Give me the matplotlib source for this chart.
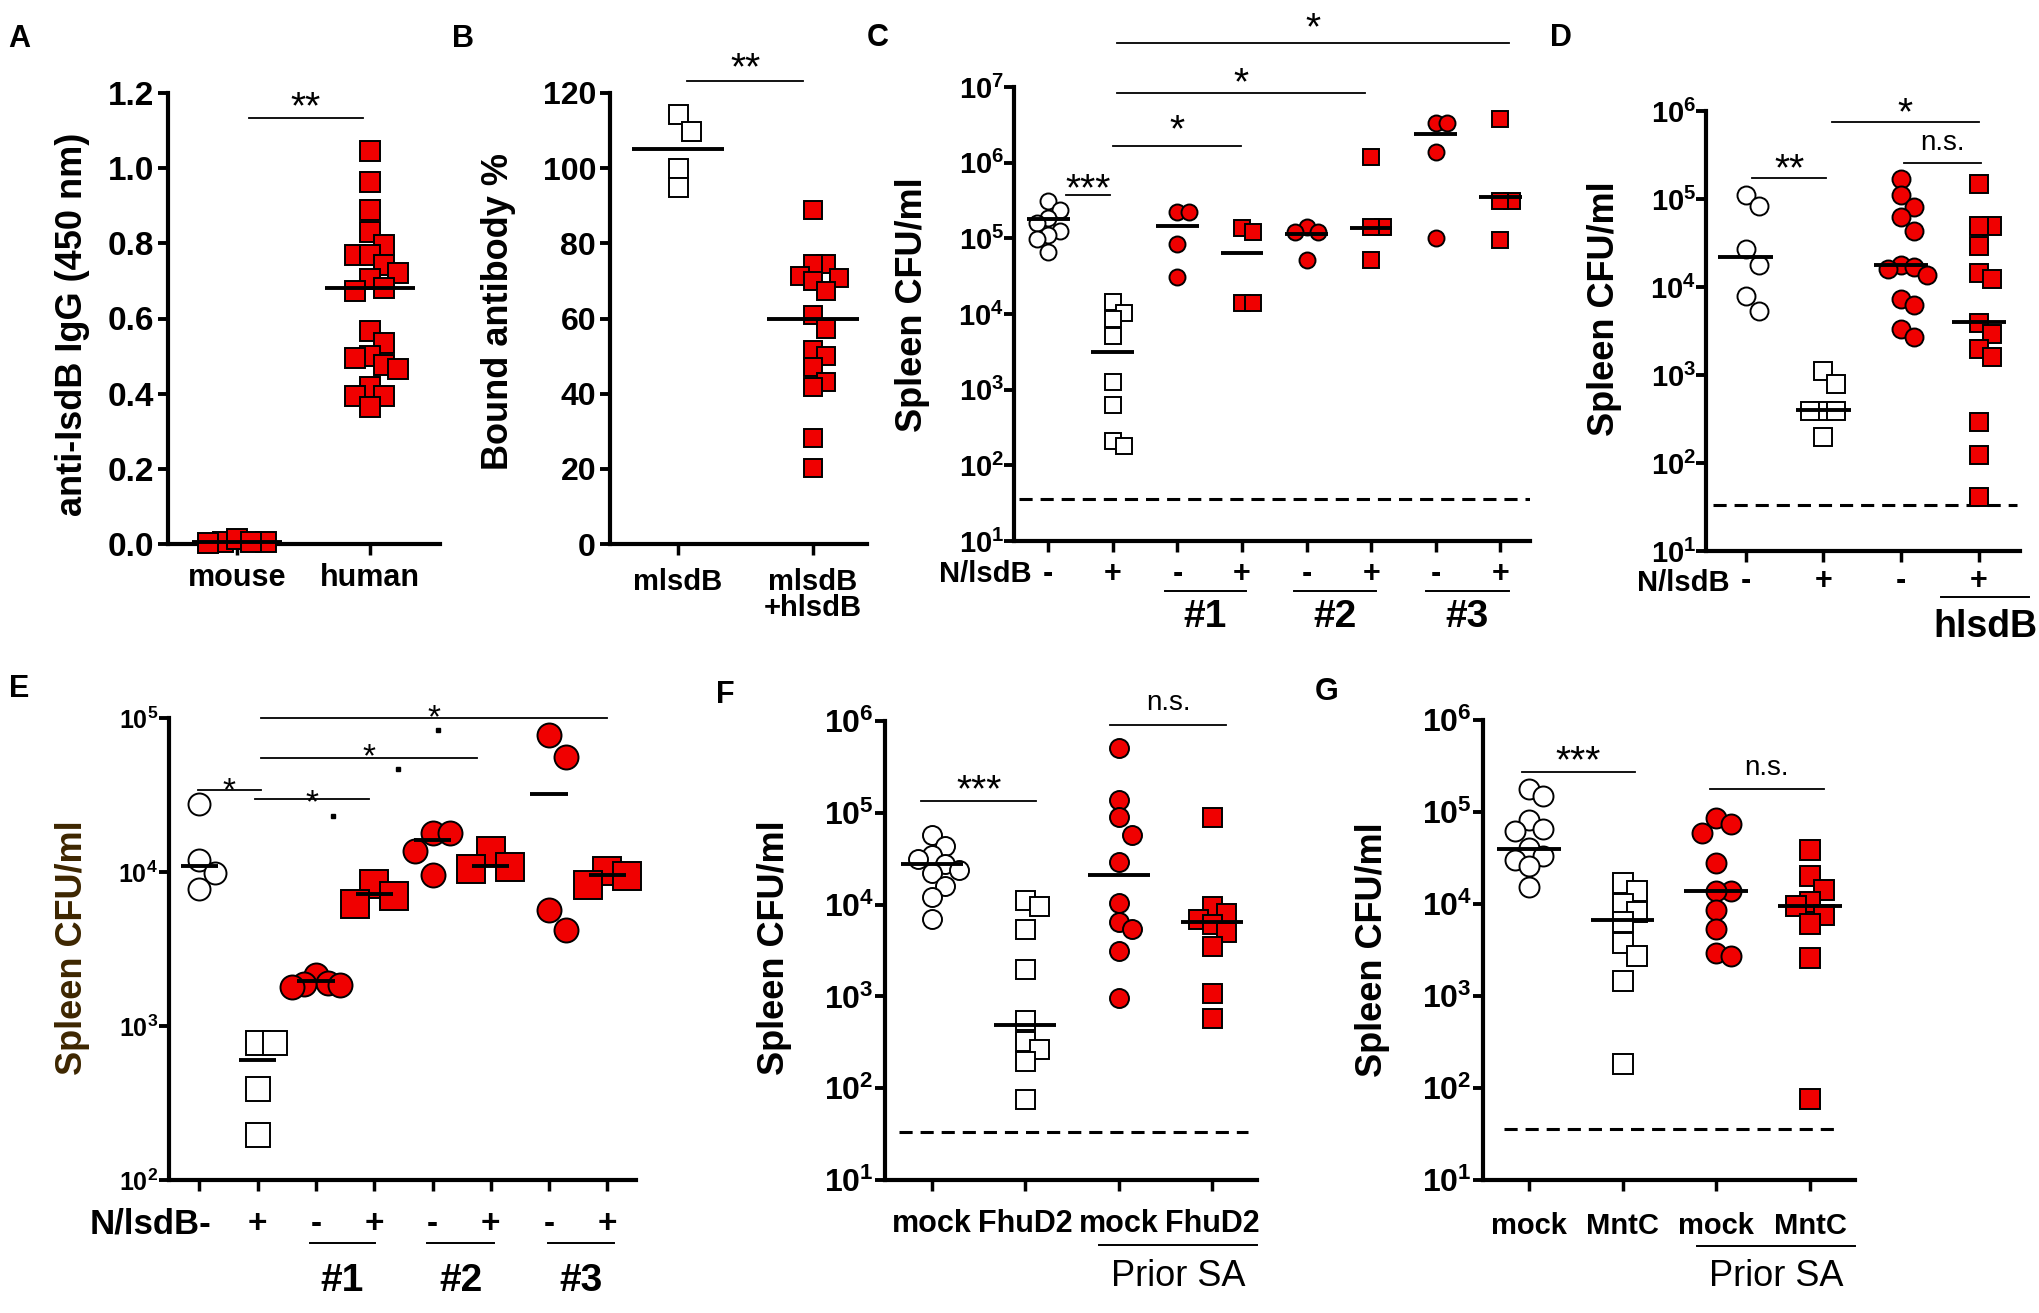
import matplotlib
matplotlib.use('Agg')
import matplotlib.pyplot as plt
import numpy as np
from matplotlib.ticker import NullLocator
from matplotlib.transforms import blended_transform_factory

plt.rcParams['font.family'] = ['Liberation Sans', 'DejaVu Sans']
plt.rcParams['font.weight'] = 'bold'
plt.rcParams['mathtext.fontset'] = 'custom'
plt.rcParams['mathtext.bf'] = 'Liberation Sans:bold'
plt.rcParams['mathtext.rm'] = 'Liberation Sans:bold'

W, H = 2040, 1313
RED = '#f00000'

# ---------------- data ----------------
# A: anti-IsdB IgG (OD 450)
a_mouse = [0.005, 0.004, 0.012, 0.006, 0.003]
a_human = [1.046, 0.962, 0.888, 0.829, 0.796, 0.769, 0.769, 0.742, 0.722, 0.704, 0.682,
           0.674, 0.568, 0.535, 0.501, 0.494, 0.476, 0.465, 0.418, 0.394, 0.394, 0.364]
a_lines = [0.006, 0.68]
a_labels = ['mouse', 'human']

# B: bound antibody %
b_m = [114.4, 110.0, 100.0, 95.0]
b_mh = [88.8, 74.4, 74.4, 71.3, 70.8, 70.0, 67.3, 61.0, 57.2, 51.5, 50.0, 47.1,
        43.0, 41.7, 28.2, 20.1]
b_lines = [105, 60]

# C: spleen CFU/ml
c_groups = [
    [3.1e5, 2.4e5, 1.85e5, 1.6e5, 1.25e5, 1.1e5, 9.7e4, 6.6e4],
    [1.45e4, 1.03e4, 8.5e3, 5.1e3, 1.25e3, 6.2e2, 2.1e2, 1.8e2],
    [2.2e5, 2.2e5, 8.5e4, 3.1e4],
    [1.35e5, 1.2e5, 1.4e4, 1.4e4],
    [1.4e5, 1.2e5, 1.2e5, 5.1e4],
    [1.2e6, 1.4e5, 1.4e5, 5.1e4],
    [3.3e6, 3.3e6, 1.4e6, 1.0e5],
    [3.8e6, 3.1e5, 3.1e5, 9.5e4],
]
c_lines = [1.8e5, 3.1e3, 1.45e5, 6.4e4, 1.15e5, 1.37e5, 2.4e6, 3.5e5]
c_lod = 36

# D
d_groups = [
    [1.1e5, 8.3e4, 2.7e4, 1.8e4, 7.9e3, 5.4e3],
    [1.1e3, 7.9e2, 3.9e2, 3.9e2, 3.9e2, 2.0e2],
    [1.7e5, 1.1e5, 8.1e4, 6.2e4, 4.3e4, 1.8e4, 1.7e4, 1.6e4, 1.36e4, 7.4e3, 6.3e3,
     3.3e3, 2.7e3],
    [1.47e5, 4.9e4, 4.9e4, 2.9e4, 1.44e4, 1.24e4, 3.9e3, 2.9e3, 2.0e3, 1.6e3, 2.9e2,
     1.24e2, 41],
]
d_lines = [2.2e4, 4.0e2, 1.8e4, 4.0e3]
d_lod = 33

# E
e_groups = [
    [2.75e4, 1.19e4, 9.9e3, 7.7e3],
    [7.7e2, 7.7e2, 3.9e2, 1.95e2],
    [2.15e3, 1.9e3, 1.86e3, 1.84e3, 1.78e3],
    [8.4e3, 7.0e3, 6.2e3],
    [1.78e4, 1.78e4, 1.37e4, 9.5e3],
    [1.37e4, 1.08e4, 1.05e4],
    [7.7e4, 5.6e4, 5.7e3, 4.2e3],
    [1.02e4, 9.4e3, 8.2e3],
]
e_lines = [1.1e4, 6.0e2, 1.95e3, 7.2e3, 1.62e4, 1.1e4, 3.2e4, 9.5e3]
e_dots = [(2.3, 10 ** 4.364), (3.41, 10 ** 4.67), (4.09, 10 ** 4.92)]

# F
f_groups = [
    [5.7e4, 4.4e4, 3.5e4, 3.1e4, 2.8e4, 2.4e4, 2.2e4, 1.6e4, 1.2e4, 6.9e3],
    [1.12e4, 9.7e3, 5.4e3, 2.0e3, 5.6e2, 3.3e2, 2.7e2, 2.0e2, 77],
    [5.1e5, 1.39e5, 8.9e4, 5.8e4, 2.9e4, 1.04e4, 6.4e3, 5.4e3, 3.1e3, 9.7e2],
    [9.0e4, 9.7e3, 8.2e3, 6.9e3, 6.2e3, 5.0e3, 3.5e3, 1.1e3, 5.8e2],
]
f_lines = [2.8e4, 4.9e2, 2.1e4, 6.5e3]
f_lod = 33
f_labels = ['mock', 'FhuD2', 'mock', 'FhuD2']

# G
g_groups = [
    [1.76e5, 1.5e5, 8.1e4, 6.5e4, 6.2e4, 4.1e4, 3.3e4, 3.0e4, 2.6e4, 1.53e4],
    [1.7e4, 1.4e4, 1.0e4, 8.2e3, 6.3e3, 3.8e3, 2.7e3, 1.47e3, 1.84e2],
    [8.5e4, 7.4e4, 5.9e4, 2.8e4, 1.38e4, 1.38e4, 8.6e3, 5.4e3, 2.9e3, 2.7e3],
    [3.9e4, 2.0e4, 1.42e4, 1.06e4, 9.6e3, 7.6e3, 6.0e3, 2.6e3, 76],
]
g_lines = [4.0e4, 6.7e3, 1.38e4, 9.4e3]
g_lod = 36
g_labels = ['mock', 'MntC', 'mock', 'MntC']

sign8 = ['-', '+', '-', '+', '-', '+', '-', '+']
sign4 = ['-', '+', '-', '+']

# ---------------- helpers ----------------
fig = plt.figure(figsize=(W / 100, H / 100), dpi=100)
PX = 100 / 72.0   # pixels per point


def panel(l, t, r, b, xlim, ylim, log=False, ypad=3):
    ax = fig.add_axes([l / W, 1 - b / H, (r - l) / W, (b - t) / H])
    if log:
        ax.set_yscale('log')
    ax.set_xlim(*xlim)
    ax.set_ylim(*ylim)
    for s in ('top', 'right'):
        ax.spines[s].set_visible(False)
    for s in ('left', 'bottom'):
        ax.spines[s].set_linewidth(3)
    ax.tick_params(axis='y', direction='out', length=7, width=2.8, pad=ypad)
    ax.tick_params(axis='x', direction='out', length=8, width=2.5, labelbottom=False)
    ax.yaxis.set_minor_locator(NullLocator())
    return ax


def decades(ax, lo, hi, size):
    ticks = [10.0 ** k for k in range(lo, hi + 1)]
    ax.set_yticks(ticks)
    ax.set_yticklabels([r'$\mathbf{10^{%d}}$' % k for k in range(lo, hi + 1)], fontsize=size)
    ax.yaxis.set_minor_locator(NullLocator())


def swarm(ax, xpos, vals, size_px, step_f=0.72):
    # spread points sideways, Prism-like
    order = np.argsort(vals)[::-1]
    xc = ax.transData.transform((xpos, vals[0]))[0]
    step = size_px * step_f
    placed = []
    xs = np.zeros(len(vals))
    for i in order:
        y = ax.transData.transform((xpos, vals[i]))[1]
        px = xc
        for k in [0, 1, -1, 2, -2, 3, -3, 4, -4, 5, -5]:
            px = xc + k * step
            if all(abs(px - qx) > step * 0.95 or abs(y - qy) > 0.9 * size_px for qx, qy in placed):
                break
        placed.append((px, y))
        xs[i] = ax.transData.inverted().transform((px, y))[0]
    return xs


def column(ax, xpos, vals, marker, face, size_px, line, half, step_f=0.72):
    xs = swarm(ax, xpos, vals, size_px, step_f)
    ax.plot(xs, vals, ls='none', marker=marker, ms=size_px / PX, mfc=face,
            mec='black', mew=1.4, zorder=3, clip_on=False)
    ax.plot([xpos - half, xpos + half], [line, line], color='black', lw=2.8,
            zorder=4, clip_on=False, solid_capstyle='butt')


def ftr(ax):
    return blended_transform_factory(ax.transData, fig.transFigure)


def sig(ax, x0, x1, ybar, label, ytxt, size=28):
    tr = ftr(ax)
    ax.plot([x0, x1], [1 - ybar / H] * 2, color='black', lw=1.3, transform=tr, clip_on=False)
    # place glyph centre at ytxt
    k = 0.27 if label == 'n.s.' else 0.58
    size_use = 20 if label == 'n.s.' else size
    ax.text((x0 + x1) / 2, 1 - (ytxt + k * size_use * PX) / H, label, transform=tr,
            ha='center', va='baseline', fontsize=size_use, fontweight='normal')


def xlab(ax, xs, labels, ypx, size, weight='bold', ha='center'):
    tr = ftr(ax)
    for x, s in zip(xs, labels):
        ax.text(x, 1 - ypx / H, s, transform=tr, ha=ha, va='center', fontsize=size,
                fontweight=weight)


def under(ax, x0, x1, ypx, label, ytxt, size, weight='bold'):
    tr = ftr(ax)
    ax.plot([x0, x1], [1 - ypx / H] * 2, color='black', lw=1.4, transform=tr, clip_on=False)
    ax.text((x0 + x1) / 2, 1 - ytxt / H, label, transform=tr, ha='center', va='center',
            fontsize=size, fontweight=weight)


def ftext(x, y, s, size, rot=0, ha='center', color='black'):
    fig.text(x / W, 1 - y / H, s, fontsize=size, rotation=rot, ha=ha, va='center',
             color=color, fontweight='bold')


def lod(ax, x0, x1, y):
    ax.plot([x0, x1], [y, y], color='black', lw=2.2, ls=(0, (4.3, 2.6)), zorder=2)


# ---------------- A ----------------
ax = panel(168, 93, 440, 544, (-0.52, 1.53), (0, 1.2))
ax.set_yticks(np.arange(0, 1.21, 0.2))
ax.set_yticklabels(['%.1f' % v for v in np.arange(0, 1.21, 0.2)], fontsize=24)
ax.set_xticks([0, 1])
xlab(ax, [0, 1], a_labels, 578, 22)
column(ax, 0, a_mouse, 's', RED, 20, a_lines[0], 0.34)
column(ax, 1, a_human, 's', RED, 20, a_lines[1], 0.34)
sig(ax, 0.09, 0.95, 118, '**', 96)
ftext(73, 324, 'anti-IsdB IgG (450 nm)', 26, rot=90)
ftext(8, 39, 'A', 22, ha='left')

# ---------------- B ----------------
ax = panel(610, 93, 867, 544, (-0.5, 1.4), (0, 120))
ax.set_yticks(range(0, 121, 20))
ax.set_yticklabels([str(v) for v in range(0, 121, 20)], fontsize=23)
ax.set_xticks([0, 1])
xlab(ax, [0, 1], ['mlsdB', 'mlsdB'], 582, 21)
xlab(ax, [1], ['+hlsdB'], 608, 21)
column(ax, 0, b_m, 's', 'white', 19, b_lines[0], 0.34)
column(ax, 1, b_mh, 's', RED, 18, b_lines[1], 0.34)
sig(ax, 0.07, 0.93, 81, '**', 57)
ftext(498, 312, 'Bound antibody %', 26, rot=90)
ftext(452, 39, 'B', 22, ha='left')

# ---------------- C ----------------
ax = panel(1014, 87, 1530, 541, (-0.53, 7.46), (10, 1e7), log=True, ypad=0)
decades(ax, 1, 7, 21)
ax.set_xticks(range(8))
xlab(ax, range(8), sign8, 574, 22)
for i, vals in enumerate(c_groups):
    if i == 0:
        mk, fc = 'o', 'white'
    elif i == 1:
        mk, fc = 's', 'white'
    else:
        mk, fc = ('o' if i % 2 == 0 else 's'), RED
    column(ax, i, vals, mk, fc, 16, c_lines[i], 0.33)
lod(ax, -0.45, 7.46, c_lod)
sig(ax, 0.28, 0.96, 195, '***', 178)
sig(ax, 1.0, 2.98, 146, '*', 119)
sig(ax, 1.06, 4.9, 93, '*', 72)
sig(ax, 1.06, 7.13, 43, '*', 17)
xlab(ax, [-0.25], ['N/lsdB'], 574, 21, ha='right')
under(ax, 1.81, 3.06, 591, '#1', 617, 28)
under(ax, 3.81, 5.08, 591, '#2', 617, 28)
under(ax, 5.85, 7.13, 591, '#3', 617, 28)
ftext(913, 305, 'Spleen CFU/ml', 26, rot=90)
ftext(867, 38, 'C', 22, ha='left')

# ---------------- D ----------------
ax = panel(1706, 111, 2020, 551, (-0.51, 3.53), (10, 1e6), log=True, ypad=0)
decades(ax, 1, 6, 21)
ax.set_xticks(range(4))
xlab(ax, range(4), sign4, 581, 22)
d_style = [('o', 'white'), ('s', 'white'), ('o', RED), ('s', RED)]
for i, vals in enumerate(d_groups):
    column(ax, i, vals, d_style[i][0], d_style[i][1], 18, d_lines[i], 0.35)
lod(ax, -0.42, 3.49, d_lod)
sig(ax, 0.08, 1.04, 178, '**', 158)
sig(ax, 1.11, 3.0, 122, '*', 102)
sig(ax, 2.04, 3.03, 163, 'n.s.', 142)
xlab(ax, [-0.2], ['N/lsdB'], 583, 21, ha='right')
under(ax, 2.52, 3.65, 597, 'hlsdB', 627, 27)
ftext(1605, 309, 'Spleen CFU/ml', 26, rot=90)
ftext(1550, 38, 'D', 22, ha='left')

# ---------------- E ----------------
ax = panel(169, 718, 636, 1180, (-0.52, 7.49), (100, 1e5), log=True, ypad=1)
decades(ax, 2, 5, 18)
ax.set_xticks(range(8))
xlab(ax, range(1, 8), sign8[1:], 1224, 24)
xlab(ax, [0.2], ['N/lsdB-'], 1224, 25, ha='right')
e_sizes = [22, 24, 24, 27, 24, 27, 24, 27]
for i, vals in enumerate(e_groups):
    if i == 0:
        mk, fc = 'o', 'white'
    elif i == 1:
        mk, fc = 's', 'white'
    else:
        mk, fc = ('o' if i % 2 == 0 else 's'), RED
    column(ax, i, vals, mk, fc, e_sizes[i], e_lines[i], 0.32,
           step_f=0.5 if i == 2 else 0.72)
sig(ax, -0.02, 1.05, 790, '*', 781, 24)
sig(ax, 0.95, 2.91, 799, '*', 793, 24)
sig(ax, 1.05, 4.77, 758, '*', 747, 24)
sig(ax, 1.05, 7.0, 718, '*', 708, 24)
ax.plot([p[0] for p in e_dots], [p[1] for p in e_dots], ls='none', marker='s',
        ms=3, color='black', clip_on=False)
under(ax, 1.89, 3.02, 1243, '#1', 1281, 28)
under(ax, 3.91, 5.05, 1243, '#2', 1281, 28)
under(ax, 5.98, 7.11, 1243, '#3', 1281, 28)
ftext(73, 948, 'Spleen CFU/ml', 26, rot=90, color='#3d2600')
ftext(9, 689, 'E', 22, ha='left')

# ---------------- F ----------------
ax = panel(885, 721, 1257, 1180, (-0.5, 3.48), (10, 1e6), log=True, ypad=1)
decades(ax, 1, 6, 23)
ax.set_xticks(range(4))
xlab(ax, range(4), f_labels, 1224, 22)
for i, vals in enumerate(f_groups):
    column(ax, i, vals, d_style[i][0], d_style[i][1], 19, f_lines[i], 0.33)
lod(ax, -0.35, 3.38, f_lod)
sig(ax, -0.11, 1.12, 801, '***', 779)
sig(ax, 1.91, 3.15, 725, 'n.s.', 702)
under(ax, 1.79, 3.48, 1245, 'Prior SA', 1276, 26, weight='normal')
ftext(775, 948, 'Spleen CFU/ml', 26, rot=90)
ftext(716, 695, 'F', 22, ha='left')

# ---------------- G ----------------
ax = panel(1483, 720, 1855, 1180, (-0.49, 3.48), (10, 1e6), log=True, ypad=1)
decades(ax, 1, 6, 23)
ax.set_xticks(range(4))
xlab(ax, range(4), g_labels, 1226, 21)
for i, vals in enumerate(g_groups):
    column(ax, i, vals, d_style[i][0], d_style[i][1], 20, g_lines[i], 0.34)
lod(ax, -0.27, 3.3, g_lod)
sig(ax, -0.07, 1.13, 772, '***', 750)
sig(ax, 1.93, 3.15, 789, 'n.s.', 767)
under(ax, 1.79, 3.48, 1246, 'Prior SA', 1276, 26, weight='normal')
ftext(1373, 950, 'Spleen CFU/ml', 26, rot=90)
ftext(1315, 692, 'G', 22, ha='left')

fig.savefig('out.png', dpi=100)
